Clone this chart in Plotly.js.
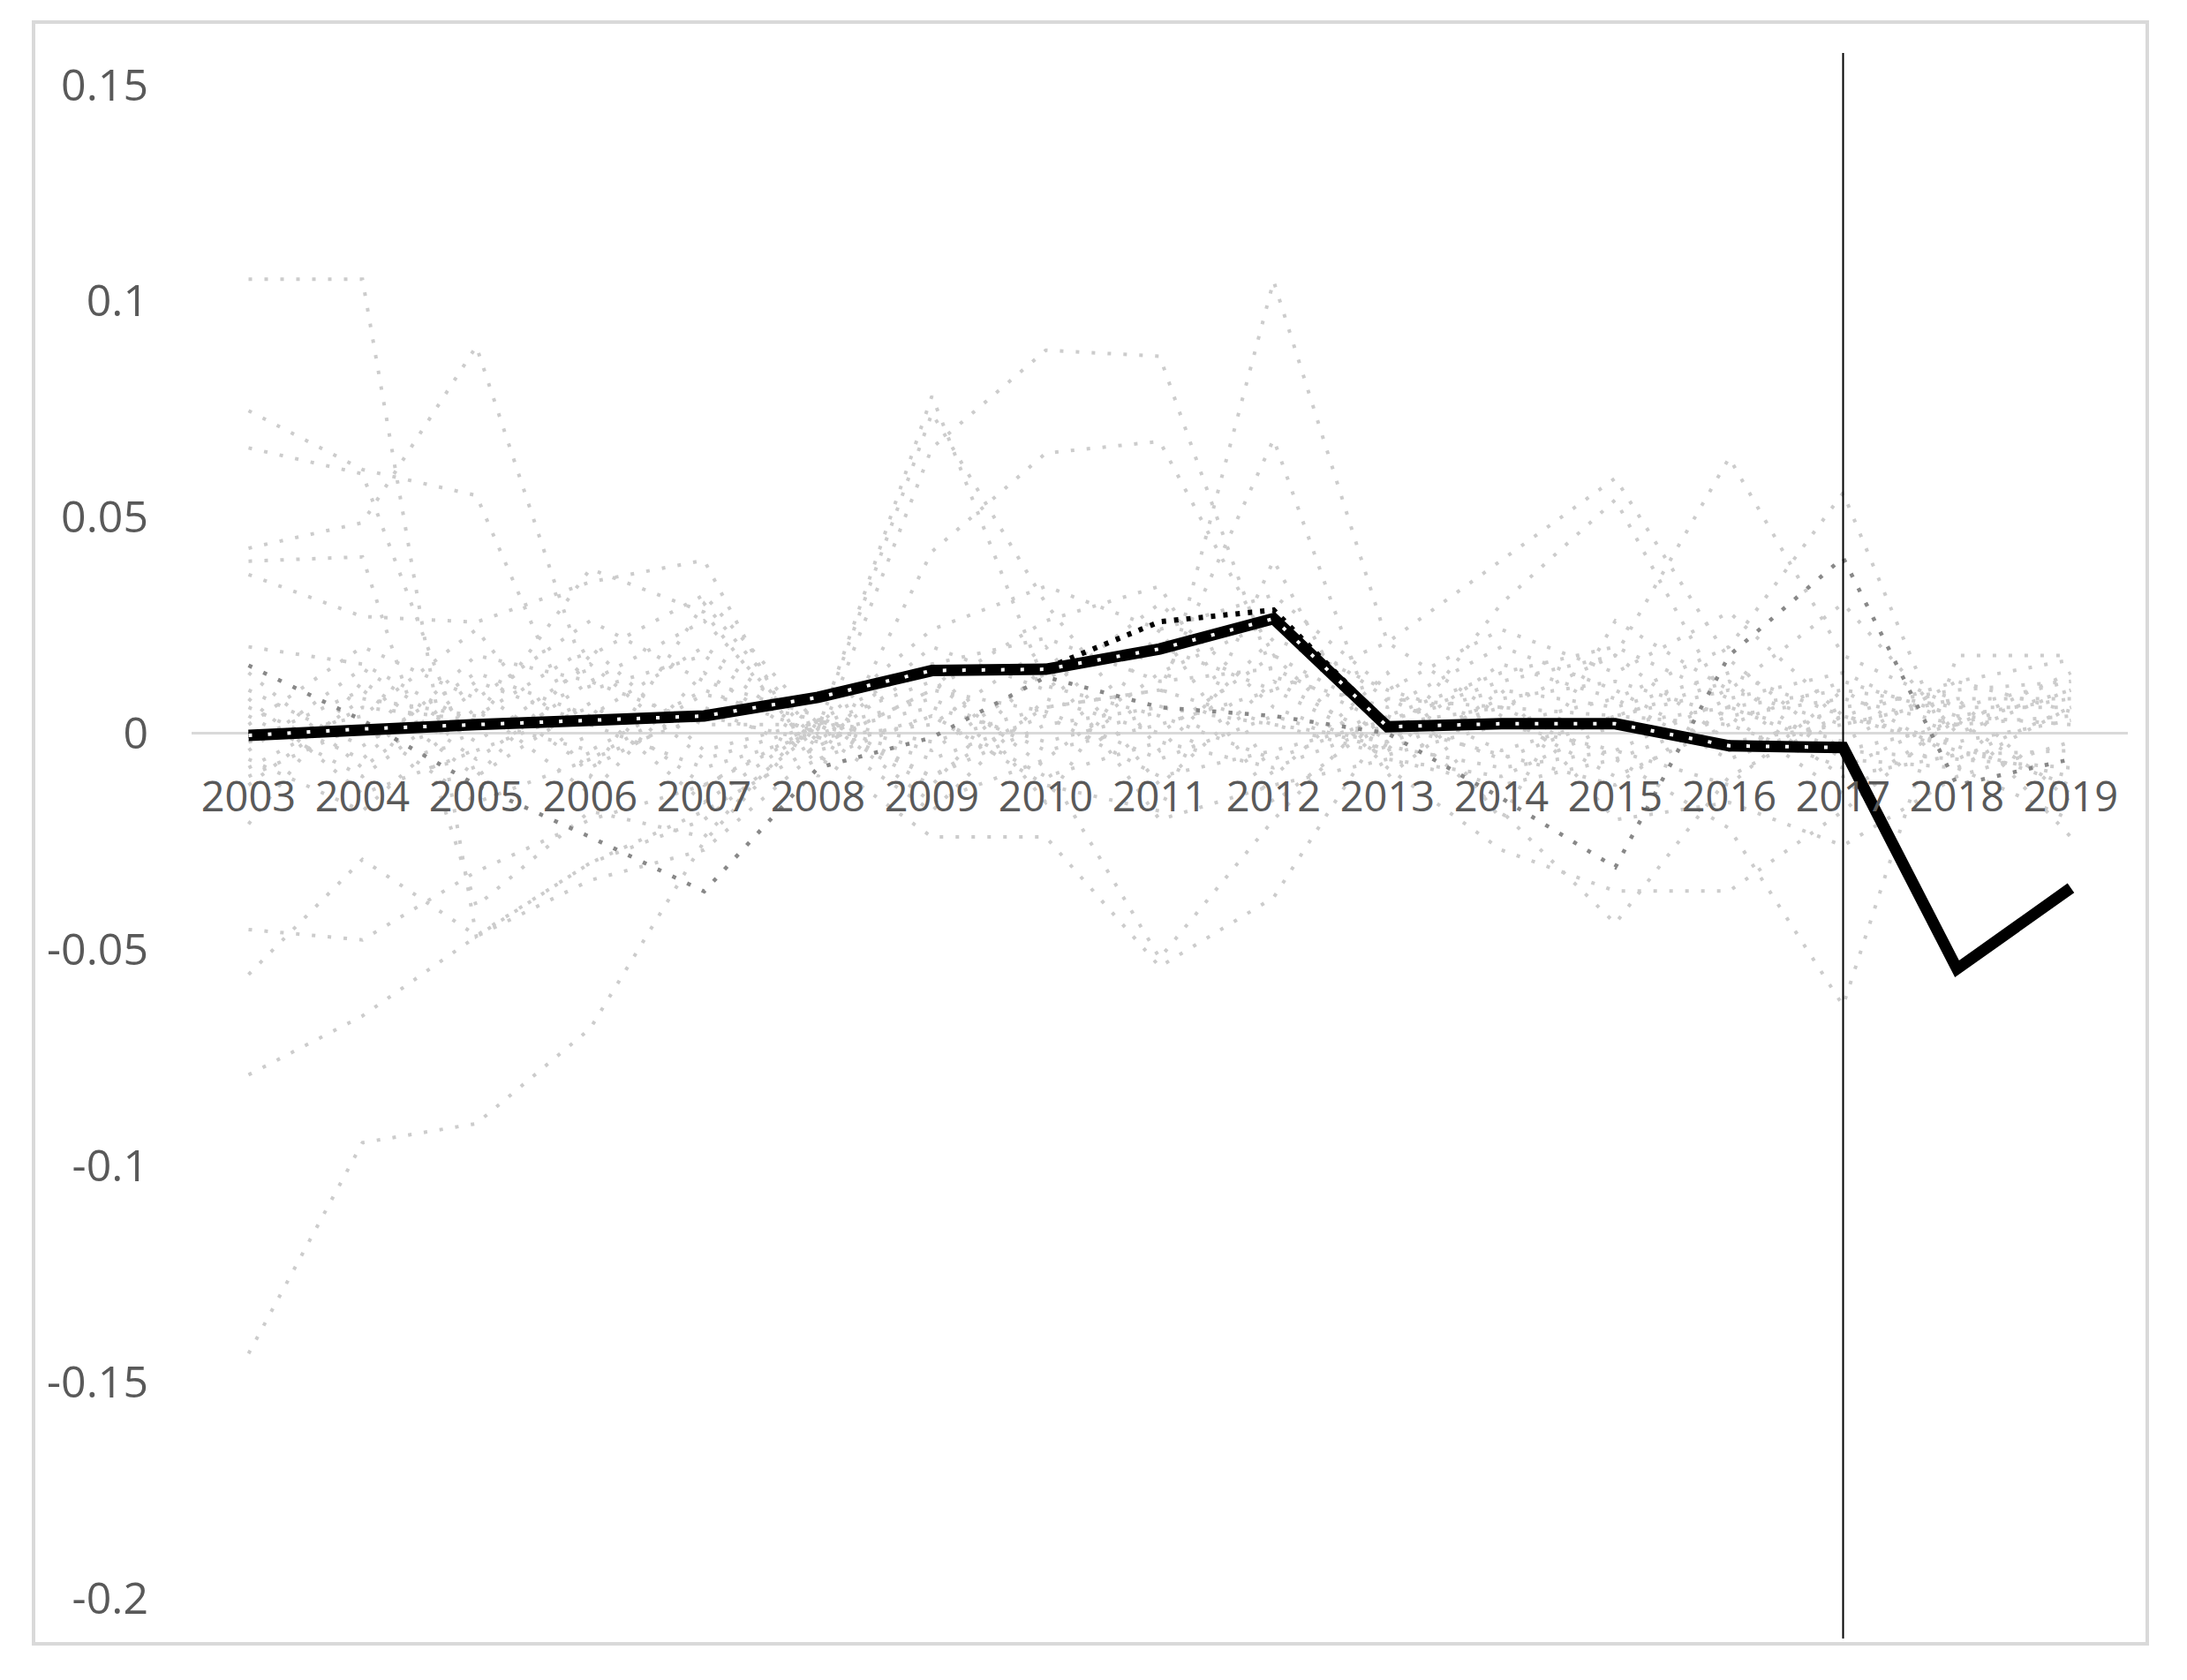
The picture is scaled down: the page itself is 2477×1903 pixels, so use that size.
<!DOCTYPE html>
<html>
<head>
<meta charset="utf-8">
<script src="https://cdn.plot.ly/plotly-3.0.1.min.js"></script>
<style>
  body { margin: 0; background: #ffffff; }
  #chart { width: 2477px; height: 1903px; }
</style>
</head>
<body>
<div id="chart"></div>
<script>
const years = ['2003', '2004', '2005', '2006', '2007', '2008', '2009', '2010', '2011',
  '2012', '2013', '2014', '2015', '2016', '2017', '2018', '2019'];

// treated unit (solid black) and its synthetic match (black dots)
const treated = [-0.0005, 0.001, 0.002, 0.003, 0.004, 0.0083, 0.0145, 0.0148, 0.0195,
  0.0265, 0.0015, 0.0022, 0.0022, -0.0029, -0.0033, -0.0545, -0.0358];
const synthetic = [-0.0005, 0.0012, 0.0022, 0.0032, 0.0042, 0.0085, 0.0142, 0.015, 0.0258,
  0.0285, 0.002, 0.0024, 0.002, -0.0026, -0.003, null, null];

// placebo gaps (grey dots), one array per unit
const placebo01 = [0.105, 0.105, -0.047, -0.03, -0.018, -0.003, 0.01, 0.005, -0.006, 0.004, -0.004, 0.008, 0.012, 0.004, 0.008, 0.002, 0.004];
const placebo02 = [0.0746, 0.061, 0.055, -0.006, 0.009, 0.003, 0.016, 0.022, 0.012, 0.015, 0.002, -0.005, -0.012, 0.006, -0.002, 0.012, 0.017];
const placebo03 = [0.066, 0.06, -0.01, 0.007, -0.012, 0.001, 0.078, 0.011, 0.004, -0.006, 0.004, 0.014, 0.02, 0.008, -0.01, -0.005, -0.004];
const placebo04 = [0.0428, 0.0487, 0.0895, 0.01, 0.018, -0.002, 0.066, 0.0886, 0.0872, 0.013, 0.006, 0.02, 0.01, -0.004, 0.006, 0.01, 0.012];
const placebo05 = [0.0398, 0.0408, -0.04, -0.018, -0.024, 0.004, -0.01, 0.002, 0.006, 0.002, -0.002, 0.006, 0.004, 0.01, 0.002, 0.008, 0.008];
const placebo06 = [0.0367, 0.027, 0.0257, 0.035, 0.04, -0.01, 0.042, 0.0648, 0.0675, 0.018, 0.004, -0.006, 0.004, 0.002, -0.008, 0.004, 0.002];
const placebo07 = [-0.0454, -0.0478, -0.032, -0.02, -0.012, 0.002, -0.006, 0.004, -0.01, -0.004, 0.003, 0.01, 0.006, 0.014, 0.004, -0.004, -0.01];
const placebo08 = [-0.0558, -0.0292, -0.0468, -0.03, -0.02, 0.001, 0.008, -0.004, 0.002, 0.01, -0.003, -0.008, -0.004, -0.012, 0.01, 0.006, 0.006];
const placebo09 = [-0.079, -0.0654, -0.047, -0.034, -0.027, -0.004, 0.004, -0.01, -0.002, -0.008, 0.002, 0.006, -0.006, 0.004, -0.014, 0.003, -0.014];
const placebo10 = [-0.1435, -0.0947, -0.0903, -0.0683, -0.025, 0.003, -0.002, 0.006, 0.01, 0.002, -0.005, 0.002, 0.008, -0.006, 0.004, -0.002, 0.003];
const placebo11 = [-0.008, 0.006, 0.003, -0.004, 0.01, 0, 0.006, -0.002, 0.005, 0.1046, 0.021, 0.004, -0.01, 0.002, 0.012, 0.004, 0.008];
const placebo12 = [-0.021, 0.012, -0.006, 0.012, 0.002, 0.002, -0.01, 0.006, 0.01, 0.068, -0.006, -0.01, 0.002, 0.006, -0.004, -0.006, -0.008];
const placebo13 = [0.004, -0.01, 0.01, -0.008, 0.006, -0.005, -0.024, -0.024, -0.054, -0.038, 0.003, 0.012, 0.018, -0.002, 0.002, 0.008, -0.016];
const placebo14 = [-0.004, 0.015, -0.002, 0.016, -0.006, 0.002, 0.012, -0.008, -0.052, -0.02, 0.008, -0.004, 0.004, 0.012, -0.006, -0.008, -0.02];
const placebo15 = [0.01, -0.003, 0.014, 0.004, 0.02, 0.001, 0.074, 0.03, -0.004, 0.022, 0.01, 0.002, -0.004, 0.008, 0.014, 0.002, 0.01];
const placebo16 = [-0.012, 0.008, 0.004, 0.02, -0.004, 0.003, -0.004, 0.014, 0.02, 0.01, 0.021, 0.04, 0.059, 0.017, -0.004, 0.002, 0.014];
const placebo17 = [0.006, -0.006, 0.018, 0.012, 0.026, -0.002, 0.02, 0.01, 0.03, 0.006, -0.004, 0.03, 0.054, 0.006, 0.01, -0.006, 0.006];
const placebo18 = [0.002, 0.02, 0.008, 0.026, 0.012, 0.004, -0.016, -0.006, 0.014, 0.026, 0.008, 0.006, 0.018, 0.0637, 0.018, 0.006, 0.012];
const placebo19 = [-0.002, 0.004, 0.024, -0.01, 0.03, -0.001, 0.002, 0.02, -0.012, 0.012, -0.002, 0.016, 0.008, 0.02, 0.0556, -0.008, 0.006];
const placebo20 = [0.008, -0.014, -0.004, 0.006, -0.016, 0.002, -0.012, 0.016, -0.02, -0.012, -0.006, -0.012, -0.006, -0.022, -0.063, 0.018, 0.018];
const placebo21 = [-0.01, 0.002, -0.016, -0.006, 0.004, -0.002, 0.016, -0.016, 0.024, -0.016, 0.004, -0.018, -0.044, -0.01, 0.004, -0.003, -0.012];
const placebo22 = [0.014, -0.008, 0.012, 0.002, -0.008, 0, -0.018, 0.008, 0, 0.018, -0.008, -0.027, -0.0365, -0.0365, -0.018, 0.004, -0.024];
const placebo23 = [-0.002, 0.01, -0.01, 0.018, 0.032, 0.002, 0.024, 0.034, 0.024, 0.032, 0.01, 0.024, 0.014, 0.028, 0.004, 0.012, 0.005];
const placebo24 = [0.02, 0.016, 0.002, 0.038, 0.028, -0.006, 0.004, -0.012, -0.018, 0.04, -0.01, 0.01, -0.02, -0.016, -0.026, -0.01, -0.002];
const placebo25 = [-0.006, -0.018, 0.006, -0.014, 0.014, -0.003, 0.01, 0.026, 0.034, -0.01, 0.014, -0.02, 0.026, 0.01, 0.03, 0, 0.01];
// the one darker placebo
const placeboDark = [0.0157, 0.003, -0.012, -0.024, -0.0366, -0.008, -0.001, 0.013, 0.006, 0.004, 0, -0.015, -0.031, 0.018, 0.0406, -0.012, -0.006];

const yTicks = [-0.2, -0.15, -0.1, -0.05, 0, 0.05, 0.1, 0.15];
const treatYear = '2017';

const placebos = [placebo01, placebo02, placebo03, placebo04, placebo05, placebo06, placebo07,
  placebo08, placebo09, placebo10, placebo11, placebo12, placebo13, placebo14, placebo15,
  placebo16, placebo17, placebo18, placebo19, placebo20, placebo21, placebo22, placebo23,
  placebo24, placebo25];

const traces = [];
placebos.forEach(vals => {
  traces.push({
    x: years, y: vals, mode: 'lines', hoverinfo: 'skip',
    line: { color: '#cccccc', width: 4, dash: '4px,14px' },
  });
});
traces.push({
  x: years, y: placeboDark, mode: 'lines', hoverinfo: 'skip',
  line: { color: '#888888', width: 4.5, dash: '4.5px,14px' },
});
traces.push({
  x: years, y: treated, mode: 'lines', hoverinfo: 'skip',
  line: { color: '#000000', width: 13 },
});
traces.push({
  x: years, y: synthetic, mode: 'lines', hoverinfo: 'skip',
  line: { color: '#000000', width: 6, dash: '5px,9px' },
});
// light dots running along the black band
traces.push({
  x: years.slice(0, 15), y: treated.slice(0, 15), mode: 'lines', hoverinfo: 'skip',
  line: { color: '#ffffff', width: 4, dash: '4px,18px' },
});

const fontFamily = 'Open Sans, Noto Sans, sans-serif';

// plot area: x 217..2410, y 96..1810 px
const plotH = 1903 - 96 - 93;
const plotW = 2477 - 217 - 67;

const layout = {
  width: 2477,
  height: 1903,
  margin: { l: 217, r: 67, t: 96, b: 93 },
  paper_bgcolor: '#ffffff',
  plot_bgcolor: '#ffffff',
  showlegend: false,
  xaxis: {
    type: 'category',
    range: [-0.5, years.length - 0.5],
    anchor: 'free',
    position: 0.2 / 0.35,
    showgrid: false,
    zeroline: false,
    showline: false,
    ticks: '',
    tickfont: { family: fontFamily, size: 47, color: '#595959' },
    ticklabelstandoff: 40,
  },
  yaxis: {
    range: [-0.2, 0.15],
    tickvals: yTicks,
    ticktext: yTicks.map(v => String(v)),
    showgrid: false,
    zeroline: true,
    zerolinecolor: '#d9d9d9',
    zerolinewidth: 3,
    showline: false,
    ticks: '',
    tickfont: { family: fontFamily, size: 50, color: '#595959' },
    ticklabelstandoff: 48,
  },
  shapes: [
    {
      type: 'line', xref: 'x', yref: 'paper',
      x0: years.indexOf(treatYear), x1: years.indexOf(treatYear),
      y0: -(1856 - 1810) / plotH, y1: 1 + (96 - 60) / plotH,
      line: { color: '#000000', width: 2 },
    },
    {
      type: 'rect', xref: 'paper', yref: 'paper', layer: 'below',
      x0: (38 - 217) / plotW, x1: (2432 - 217) / plotW,
      y0: -(1862 - 1810) / plotH, y1: 1 + (96 - 25) / plotH,
      line: { color: '#d9d9d9', width: 4 },
    },
  ],
};

Plotly.newPlot('chart', traces, layout, { staticPlot: true });
</script>
</body>
</html>
